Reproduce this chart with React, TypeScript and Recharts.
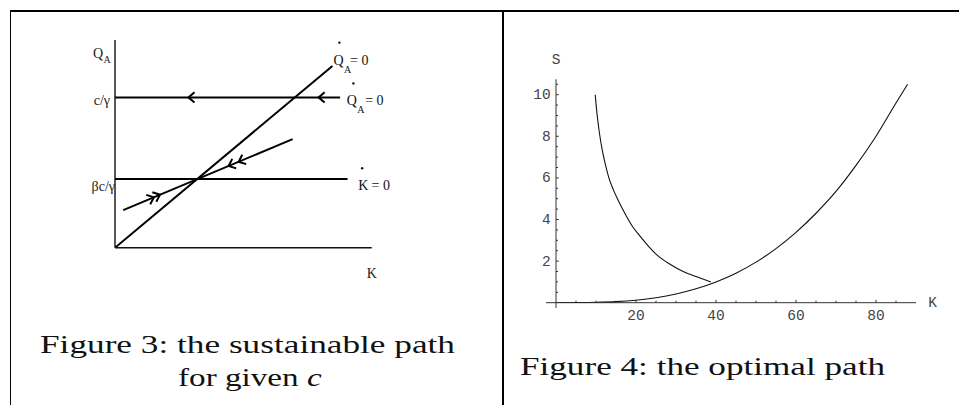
import React from 'react';
import {
  ComposedChart,
  Line,
  Scatter,
  XAxis,
  YAxis,
  ReferenceLine,
  LabelList,
  Label,
} from 'recharts';

// ---- Figure 3: sustainable path (schematic, arbitrary units) ----
const qaLevel = 5.79; // c/γ
const kLevel = 2.65; // βc/γ
const diagonalK = [0, 8.47];
const diagonalQ = [0, 7.0];
const upperK = [0, 8.77];
const lowerK = [0, 9.06];
const saddleK = [0.32, 6.92];
const saddleQ = [1.45, 4.18];
const leftTickValues = [kLevel, qaLevel];
const leftTickLabels = ['βc/γ', 'c/γ'];

// arrow positions along each line (0..1) and their direction
const upperArrowT = [0.326, 0.904];
const saddleInT = [0.181, 0.217];
const saddleOutT = [0.622, 0.681];

// ---- Figure 4: optimal path ----
const pathK = [9.8, 10.3, 10.9, 11.6, 12.4, 13.3, 14.4, 15.6, 17.2, 19, 21, 23.2, 25.5, 28.5, 31.8, 35.2, 38.7];
const pathS = [10.0, 9.0, 8.1, 7.3, 6.6, 5.95, 5.4, 4.9, 4.3, 3.7, 3.2, 2.7, 2.25, 1.85, 1.5, 1.25, 1.0];
const steadyK = [0, 10, 15, 20, 25, 30, 35, 40, 45, 50, 55, 60, 65, 70, 75, 80, 85, 87.9];
const steadyS = [0, 0.02, 0.05, 0.12, 0.24, 0.42, 0.67, 1.0, 1.42, 1.95, 2.6, 3.38, 4.3, 5.35, 6.6, 8.0, 9.6, 10.5];
const kTicks = [5, 10, 15, 20, 25, 30, 35, 40, 45, 50, 55, 60, 65, 70, 75, 80, 85];
const sTicks = [0.5, 1, 1.5, 2, 2.5, 3, 3.5, 4, 4.5, 5, 5.5, 6, 6.5, 7, 7.5, 8, 8.5, 9, 9.5, 10, 10.5];

// left chart geometry (axes take 1px each)
const L_W = 480;
const L_H = 300;
const L_MARGIN = { top: 40, left: 114, right: 108.3, bottom: 51.3 };
const L_XMAX = 10;
const L_YMAX = 8;
const KX = (L_W - L_MARGIN.left - L_MARGIN.right - 1) / L_XMAX;
const KY = (L_H - L_MARGIN.top - L_MARGIN.bottom - 1) / L_YMAX;

const SERIF = 'Liberation Serif, Times New Roman, serif';
const MONO = 'Liberation Mono, Courier New, monospace';

const seg = (xs: number[], ys: number[]) => xs.map((x, i) => ({ x, y: ys[i] }));

const diagonalData = seg(diagonalK, diagonalQ);
const upperData = seg(upperK, [qaLevel, qaLevel]);
const lowerData = seg(lowerK, [kLevel, kLevel]);
const saddleData = seg(saddleK, saddleQ);

const along = (xs: number[], ys: number[], t: number, dir: number) => ({
  x: xs[0] + t * (xs[1] - xs[0]),
  y: ys[0] + t * (ys[1] - ys[0]),
  dx: dir * (xs[1] - xs[0]),
  dy: dir * (ys[1] - ys[0]),
});

const arrowData = [
  ...upperArrowT.map((t) => along(upperK, [qaLevel, qaLevel], t, -1)),
  ...saddleInT.map((t) => along(saddleK, saddleQ, t, 1)),
  ...saddleOutT.map((t) => along(saddleK, saddleQ, t, -1)),
];

const pathData = pathK.map((k, i) => ({ k, s: pathS[i] }));
const steadyData = steadyK.map((k, i) => ({ k, s: steadyS[i] }));

function Chevron(props: any) {
  const { cx, cy, payload } = props;
  if (cx == null || cy == null) return null;
  const px = payload.dx * KX;
  const py = -payload.dy * KY;
  const n = Math.hypot(px, py);
  const ux = px / n;
  const uy = py / n;
  const L = 8;
  const a = (40 * Math.PI) / 180;
  const c = Math.cos(a);
  const s = Math.sin(a);
  const w1x = cx - L * (ux * c - uy * s);
  const w1y = cy - L * (ux * s + uy * c);
  const w2x = cx - L * (ux * c + uy * s);
  const w2y = cy - L * (-ux * s + uy * c);
  return (
    <path
      d={`M${w1x},${w1y}L${cx},${cy}L${w2x},${w2y}`}
      stroke="#000"
      strokeWidth={2}
      fill="none"
    />
  );
}

interface EndSpec {
  last: number;
  main: string;
  sub?: string;
  dot: [number, number];
  at: [number, number];
  subAt?: [number, number];
  eqAt: [number, number];
}

const endLabel = (spec: EndSpec) => (props: any) => {
  if (props.index !== spec.last) return null;
  const x = Number(props.x);
  const y = Number(props.y);
  return (
    <g fontFamily={SERIF} fill="#111">
      <circle cx={x + spec.dot[0]} cy={y + spec.dot[1]} r={1.2} />
      <text x={x + spec.at[0]} y={y + spec.at[1]} fontSize={14}>
        {spec.main}
      </text>
      {spec.sub && spec.subAt && (
        <text x={x + spec.subAt[0]} y={y + spec.subAt[1]} fontSize={10}>
          {spec.sub}
        </text>
      )}
      <text x={x + spec.eqAt[0]} y={y + spec.eqAt[1]} fontSize={14}>
        = 0
      </text>
    </g>
  );
};

function LeftTick(props: any) {
  const { x, y, payload } = props;
  const i = leftTickValues.indexOf(payload.value);
  const off = i === 0 ? [0, 12] : [-5, 7.7];
  return (
    <text
      x={x + off[0]}
      y={y + off[1]}
      textAnchor="end"
      fontFamily={SERIF}
      fontSize={14}
      fill="#222"
    >
      {leftTickLabels[i]}
    </text>
  );
}

function SustainableChart() {
  return (
    <ComposedChart width={L_W} height={L_H} margin={L_MARGIN}>
      <XAxis
        type="number"
        dataKey="x"
        domain={[0, L_XMAX]}
        allowDataOverflow
        height={1}
        tick={false}
        tickLine={false}
        tickSize={0}
        axisLine={{ stroke: '#111', strokeWidth: 1.4 }}
      >
        <Label
          content={(p: any) => {
            const vb = p.viewBox || {};
            return (
              <text
                x={vb.x + vb.width - 5}
                y={vb.y + 30}
                fontFamily={SERIF}
                fontSize={14}
                fill="#222"
              >
                K
              </text>
            );
          }}
        />
      </XAxis>
      <YAxis
        type="number"
        dataKey="y"
        domain={[0, L_YMAX]}
        allowDataOverflow
        width={1}
        ticks={leftTickValues}
        interval={0}
        tick={<LeftTick />}
        tickLine={false}
        tickSize={0}
        tickMargin={0}
        axisLine={{ stroke: '#111', strokeWidth: 1.4 }}
      >
        <Label
          content={(p: any) => {
            const vb = p.viewBox || {};
            const x0 = vb.x + vb.width;
            return (
              <g fontFamily={SERIF} fill="#222">
                <text x={x0 - 22} y={vb.y + 18} fontSize={14}>
                  Q
                </text>
                <text x={x0 - 11.5} y={vb.y + 23.3} fontSize={10}>
                  A
                </text>
              </g>
            );
          }}
        />
      </YAxis>
      <Line
        data={diagonalData}
        dataKey="y"
        type="linear"
        stroke="#000"
        strokeWidth={2}
        dot={false}
        isAnimationActive={false}
      >
        <LabelList
          dataKey="y"
          content={endLabel({
            last: 1,
            main: 'Q',
            sub: 'A',
            dot: [7, -23.3],
            at: [1, -1],
            subAt: [11.7, 7],
            eqAt: [17.7, -1],
          })}
        />
      </Line>
      <Line
        data={upperData}
        dataKey="y"
        type="linear"
        stroke="#000"
        strokeWidth={2}
        dot={false}
        isAnimationActive={false}
      >
        <LabelList
          dataKey="y"
          content={endLabel({
            last: 1,
            main: 'Q',
            sub: 'A',
            dot: [13.3, -14],
            at: [6.7, 7.7],
            subAt: [17, 16],
            eqAt: [25, 7.7],
          })}
        />
      </Line>
      <Line
        data={lowerData}
        dataKey="y"
        type="linear"
        stroke="#000"
        strokeWidth={2}
        dot={false}
        isAnimationActive={false}
      >
        <LabelList
          dataKey="y"
          content={endLabel({
            last: 1,
            main: 'K',
            dot: [14.6, -10.7],
            at: [10.6, 11],
            eqAt: [24, 11],
          })}
        />
      </Line>
      <Line
        data={saddleData}
        dataKey="y"
        type="linear"
        stroke="#000"
        strokeWidth={2}
        dot={false}
        isAnimationActive={false}
      />
      <Scatter data={arrowData} dataKey="y" shape={<Chevron />} isAnimationActive={false} />
    </ComposedChart>
  );
}

const TICK_FONT = 14.5;
const TICK_FILL = '#444';

function KTick(props: any) {
  const { x, y, payload } = props;
  const major = payload.value % 20 === 0;
  return (
    <g>
      <line x1={x} y1={y} x2={x} y2={y - (major ? 2.8 : 2)} stroke="#333" strokeWidth={1} />
      {major && (
        <text
          x={x}
          y={y + 17.3}
          textAnchor="middle"
          fontFamily={MONO}
          fontSize={TICK_FONT}
          fill={TICK_FILL}
        >
          {payload.value}
        </text>
      )}
    </g>
  );
}

function STick(props: any) {
  const { x, y, payload } = props;
  const major = payload.value % 2 === 0;
  return (
    <g>
      <line x1={x} y1={y} x2={x + (major ? 2.8 : 2)} y2={y} stroke="#333" strokeWidth={1} />
      {major && (
        <text
          x={x - 5.3}
          y={y + 4.5}
          textAnchor="end"
          fontFamily={MONO}
          fontSize={TICK_FONT}
          fill={TICK_FILL}
        >
          {payload.value}
        </text>
      )}
    </g>
  );
}

function OptimalChart() {
  return (
    <ComposedChart width={479} height={340} margin={{ top: 79.3, right: 43, bottom: 36.3, left: 75 }}>
      <XAxis
        type="number"
        dataKey="k"
        domain={[0, 90]}
        allowDataOverflow
        height={1}
        ticks={kTicks}
        interval={0}
        tick={<KTick />}
        tickLine={false}
        tickSize={0}
        tickMargin={0}
        axisLine={false}
      >
        <Label
          content={(p: any) => {
            const vb = p.viewBox || {};
            return (
              <text
                x={vb.x + vb.width + 12.3}
                y={vb.y + 4.5}
                fontFamily={MONO}
                fontSize={TICK_FONT}
                fill={TICK_FILL}
              >
                K
              </text>
            );
          }}
        />
      </XAxis>
      <YAxis
        type="number"
        dataKey="s"
        domain={[0, 10.74]}
        allowDataOverflow
        width={1}
        ticks={sTicks}
        interval={0}
        tick={<STick />}
        tickLine={false}
        tickSize={0}
        tickMargin={0}
        axisLine={false}
      >
        <Label
          content={(p: any) => {
            const vb = p.viewBox || {};
            return (
              <text
                x={vb.x + vb.width}
                y={vb.y - 15}
                textAnchor="middle"
                fontFamily={MONO}
                fontSize={TICK_FONT}
                fill={TICK_FILL}
              >
                S
              </text>
            );
          }}
        />
      </YAxis>
      <ReferenceLine
        segment={[{ x: -2.5, y: 0 }, { x: 90, y: 0 }]}
        stroke="#333"
        strokeWidth={1}
        ifOverflow="visible"
      />
      <ReferenceLine
        segment={[{ x: 0, y: -0.25 }, { x: 0, y: 10.74 }]}
        stroke="#333"
        strokeWidth={1}
        ifOverflow="visible"
      />
      <Line
        data={pathData}
        dataKey="s"
        type="monotone"
        stroke="#111"
        strokeWidth={1.1}
        dot={false}
        isAnimationActive={false}
      />
      <Line
        data={steadyData}
        dataKey="s"
        type="monotone"
        stroke="#111"
        strokeWidth={1.1}
        dot={false}
        isAnimationActive={false}
      />
    </ComposedChart>
  );
}

const abs = (left: number, top: number, width: number, height: number): React.CSSProperties => ({
  position: 'absolute',
  left,
  top,
  width,
  height,
});

export default function App() {
  return (
    <div style={{ ...abs(0, 0, 959, 405), background: '#fff', overflow: 'hidden' }}>
      <div style={{ ...abs(9.5, 10.3, 949.5, 1.4), background: '#000' }} />
      <div style={{ ...abs(9.5, 10.3, 1.4, 400), background: '#000' }} />
      <div style={{ ...abs(502, 10.3, 2, 400), background: '#000' }} />

      <div style={abs(0, 0, L_W, L_H)}>
        <SustainableChart />
      </div>
      <div style={abs(480, 0, 479, 340)}>
        <OptimalChart />
      </div>

      <svg style={abs(0, 320, 502, 85)} width={502} height={85}>
        <text
          x={40}
          y={32.7}
          fontFamily={SERIF}
          fontSize={26}
          fill="#111"
          textLength={415}
          lengthAdjust="spacingAndGlyphs"
        >
          Figure 3: the sustainable path
        </text>
        <text
          x={178}
          y={66}
          fontFamily={SERIF}
          fontSize={26}
          fill="#111"
          textLength={143.7}
          lengthAdjust="spacingAndGlyphs"
        >
          for given <tspan fontStyle="italic">c</tspan>
        </text>
      </svg>
      <svg style={abs(504, 320, 455, 85)} width={455} height={85}>
        <text
          x={16}
          y={55}
          fontFamily={SERIF}
          fontSize={26}
          fill="#111"
          textLength={365}
          lengthAdjust="spacingAndGlyphs"
        >
          Figure 4: the optimal path
        </text>
      </svg>
    </div>
  );
}
